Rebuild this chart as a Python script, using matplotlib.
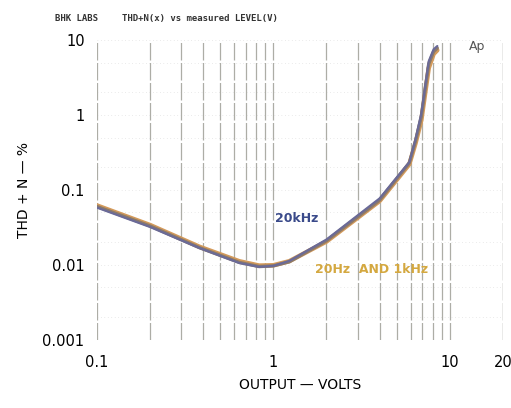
import matplotlib.pyplot as plt
import numpy as np

# Data (output volts vs THD+N %)
volts_20hz = [0.1, 0.2, 0.38, 0.64, 0.83, 1.0, 1.23, 2.0, 4.0, 5.9, 6.4, 6.9, 7.6, 8.1, 8.5]
thd_20hz = [0.062, 0.034, 0.0175, 0.0112, 0.0098, 0.0099, 0.0112, 0.0205, 0.071, 0.22, 0.42, 0.85, 4.2, 6.5, 7.3]

volts_1khz = [0.1, 0.2, 0.38, 0.64, 0.83, 1.0, 1.23, 2.0, 4.0, 5.9, 6.4, 6.9, 7.6, 8.1, 8.5]
thd_1khz = [0.060, 0.033, 0.017, 0.0108, 0.0095, 0.0097, 0.0110, 0.021, 0.073, 0.23, 0.45, 0.95, 4.8, 7.0, 7.8]

volts_20khz = [0.1, 0.2, 0.38, 0.64, 0.83, 1.0, 1.23, 2.0, 4.0, 5.9, 6.4, 6.9, 7.6, 8.1, 8.5]
thd_20khz = [0.058, 0.032, 0.0168, 0.0106, 0.0094, 0.0097, 0.0113, 0.0218, 0.077, 0.235, 0.48, 1.05, 5.2, 7.5, 8.3]

xticks = [0.1, 1, 10, 20]
xtick_labels = ['0.1', '1', '10', '20']
yticks = [0.001, 0.01, 0.1, 1, 10]
ytick_labels = ['0.001', '0.01', '0.1', '1', '10']

fig = plt.figure(figsize=(5.11, 4.08), dpi=100)
ax = fig.add_axes([0.190, 0.167, 0.794, 0.735])

# grid lines at every minor decade step
grid_x = [m * 10.0 ** e for e in (-1, 0, 1) for m in range(1, 10)] + [20]
for gx in grid_x:
    if gx <= 20:
        ax.axvline(gx, color='#8a8a80', lw=0.9, alpha=0.7, dashes=(14, 2), zorder=1)
for gy in yticks + [0.02, 0.05, 0.2, 0.5, 2, 5, 0.002, 0.005]:
    ax.axhline(gy, color='#b0b0b0', lw=0.5, alpha=0.5, dashes=(1, 4), zorder=1)

ax.plot(volts_20hz, thd_20hz, color='#d49a5a', lw=3.2, solid_capstyle='round', zorder=3)
ax.plot(volts_1khz, thd_1khz, color='#8c7a6a', lw=2.4, solid_capstyle='round', zorder=4)
ax.plot(volts_20khz, thd_20khz, color='#6a6a98', lw=1.6, solid_capstyle='round', zorder=5)

ax.set_xscale('log')
ax.set_yscale('log')
ax.set_xlim(0.1, 20)
ax.set_ylim(0.001, 10)
ax.set_xticks(xticks)
ax.set_xticklabels(xtick_labels)
ax.set_yticks(yticks)
ax.set_yticklabels(ytick_labels)
ax.minorticks_off()
ax.tick_params(length=0, labelsize=10.5)
ax.tick_params(axis='x', pad=11)
ax.tick_params(axis='y', pad=9)
for s in ax.spines.values():
    s.set_visible(False)

ax.set_xlabel('OUTPUT — VOLTS', fontsize=10, labelpad=6)
ax.set_ylabel('THD + N — %', fontsize=10, labelpad=8)

ax.text(1.35, 0.042, '20kHz', color='#3a4a8a', fontsize=9, fontweight='bold', ha='center', va='center', zorder=6)
ax.text(3.62, 0.0086, '20Hz  AND 1kHz', color='#d4a840', fontsize=9, fontweight='bold', ha='center', va='center', zorder=6)
ax.text(14.2, 8.2, 'Ap', color='#555555', fontsize=9, ha='center', va='center')

fig.text(0.108, 0.948, 'BHK LABS', fontsize=6.5, fontweight='bold', family='DejaVu Sans Mono', color='#333333')
fig.text(0.238, 0.948, 'THD+N(x) vs measured LEVEL(V)', fontsize=6.5, fontweight='bold', family='DejaVu Sans Mono', color='#333333')

fig.savefig('out.png', dpi=100)
